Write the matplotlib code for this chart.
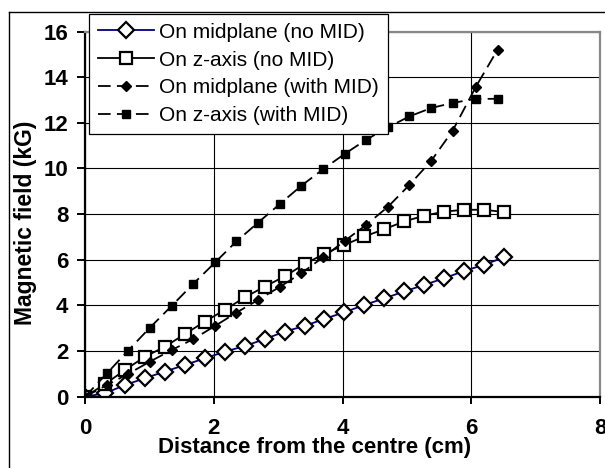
import matplotlib
matplotlib.use("Agg")
import matplotlib.pyplot as plt
from matplotlib.lines import Line2D

plt.rcParams['font.family'] = ['Liberation Sans', 'DejaVu Sans']

# distances (cm) for the "no MID" runs
x_nomid = [0.0, 0.31, 0.62, 0.93, 1.24, 1.55, 1.86, 2.17, 2.48, 2.79, 3.10,
           3.41, 3.72, 4.03, 4.34, 4.65, 4.96, 5.27, 5.58, 5.89, 6.20, 6.51]
mid_nomid = [0.0, 0.15, 0.51, 0.81, 1.10, 1.39, 1.68, 1.97, 2.22, 2.52, 2.85,
             3.10, 3.41, 3.70, 4.02, 4.31, 4.61, 4.90, 5.19, 5.51, 5.78, 6.11]
z_nomid = [0.0, 0.55, 1.17, 1.75, 2.19, 2.74, 3.29, 3.80, 4.35, 4.82, 5.27,
           5.81, 6.26, 6.65, 7.02, 7.34, 7.68, 7.93, 8.11, 8.19, 8.19, 8.09]

# distances (cm) for the "with MID" runs
x_mid = [0.0, 0.34, 0.67, 1.01, 1.35, 1.68, 2.02, 2.35, 2.69, 3.03,
         3.36, 3.70, 4.04, 4.37, 4.71, 5.04, 5.38, 5.71, 6.07, 6.41]
mid_withmid = [0.0, 0.51, 1.00, 1.54, 2.05, 2.52, 3.10, 3.68, 4.24, 4.82,
               5.41, 6.11, 6.84, 7.53, 8.33, 9.28, 10.34, 11.65, 13.57, 15.21]
z_withmid = [0.0, 1.02, 2.02, 3.03, 3.99, 4.94, 5.88, 6.80, 7.63, 8.45,
             9.24, 9.97, 10.65, 11.26, 11.81, 12.28, 12.65, 12.87, 13.05, 13.05]

W, H = 605, 468
fig = plt.figure(figsize=(W / 100, H / 100), dpi=100)

# plot area in pixels: left 85, right 600, top 31.5, bottom 396.7
ax = fig.add_axes([85 / W, (H - 396.7) / H, 515 / W, (396.7 - 31.5) / H])

ax.plot(x_nomid, mid_nomid, color='#000080', lw=1.3, marker='D',
        ms=8, mfc='white', mec='black', mew=1.6, label='On midplane (no MID)')
ax.plot(x_nomid, z_nomid, color='black', lw=1.3, marker='s',
        ms=9, mfc='white', mec='black', mew=1.6, label='On z-axis (no MID)')
ax.plot(x_mid, mid_withmid, color='black', lw=1.3, ls=(0, (7, 3.5)), marker='D',
        ms=5, mfc='black', mec='black', label='On midplane (with MID)')
ax.plot(x_mid, z_withmid, color='black', lw=1.3, ls=(0, (7, 3.5)), marker='s',
        ms=5.5, mfc='black', mec='black', label='On z-axis (with MID)')

ax.set_xlim(0, 8)
ax.set_ylim(0, 16)
ax.set_xticks([0, 2, 4, 6, 8])
ax.set_yticks(range(0, 17, 2))
ax.grid(True, color='black', lw=0.8)
ax.set_axisbelow(True)

for s in ['left', 'bottom']:
    ax.spines[s].set_linewidth(1.6)
    ax.spines[s].set_color('black')
for s in ['top', 'right']:
    ax.spines[s].set_linewidth(1.6)
    ax.spines[s].set_color('#888888')

ax.tick_params(axis='y', direction='out', length=6, width=1.4, pad=6,
               labelsize=16)
ax.tick_params(axis='x', direction='out', length=5, width=1.4, pad=10,
               labelsize=16)
for lab in ax.get_xticklabels() + ax.get_yticklabels():
    lab.set_fontweight('bold')

ax.set_xlabel('Distance from the centre (cm)', fontsize=16, fontweight='bold')
ax.set_ylabel('Magnetic field (kG)', fontsize=16.5, fontweight='bold')
ax.xaxis.set_label_coords((315 - 85) / 515, (396.7 - 448) / 365.2)
ax.xaxis.label.set_va('center')
ax.yaxis.set_label_coords((26 - 85) / 515, (396.7 - 223) / 365.2)
ax.yaxis.label.set_va('center')

leg = ax.legend(loc='upper left', bbox_to_anchor=(89 / W, 1 - 14 / H),
                bbox_transform=fig.transFigure, borderaxespad=0,
                fancybox=False, edgecolor='black', framealpha=1,
                fontsize=15, handlelength=2.7, handletextpad=0.25,
                labelspacing=0.42, borderpad=0.42)
leg.get_frame().set_linewidth(0.9)

# outer chart border (top and left only, image is cropped on the other sides)
fig.add_artist(Line2D([8.5 / W, 1], [1 - 12 / H, 1 - 12 / H], color='black', lw=1))
fig.add_artist(Line2D([8.5 / W, 8.5 / W], [0, 1 - 12 / H], color='black', lw=1))

fig.savefig('out.png', dpi=100)
